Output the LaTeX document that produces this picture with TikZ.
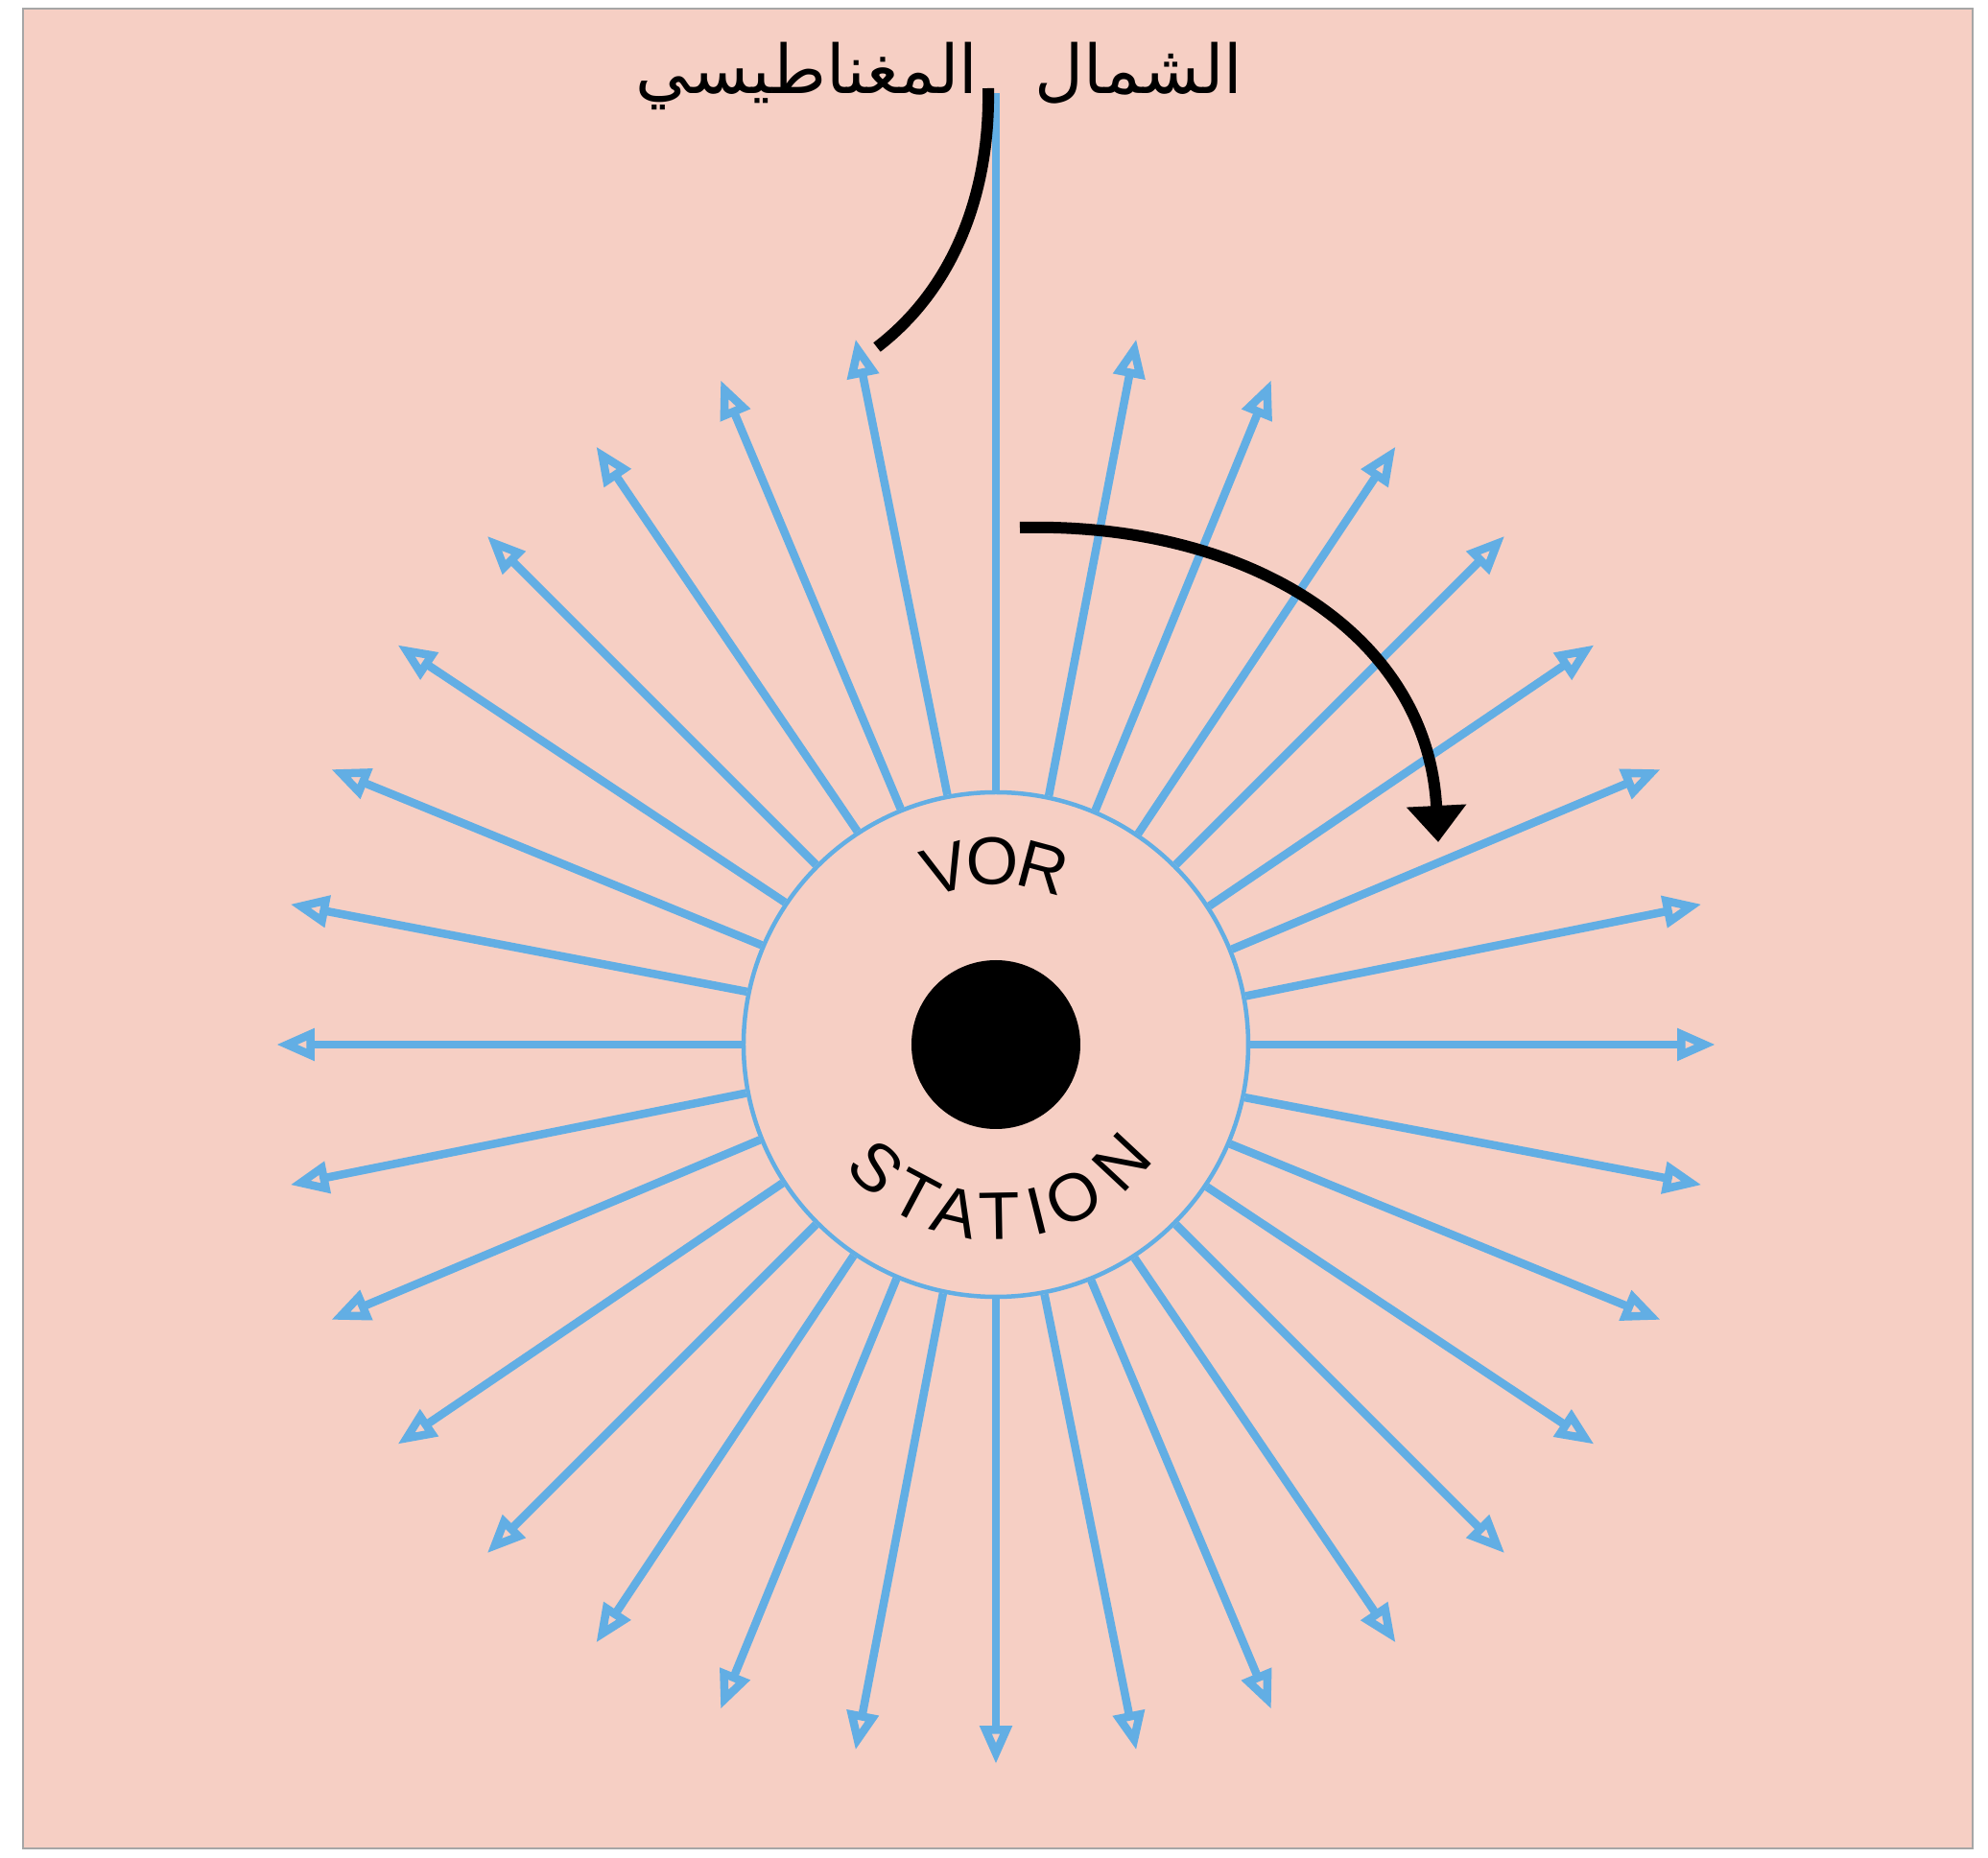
\documentclass[tikz,border=0pt]{standalone}
\usepackage{fontspec}
\usetikzlibrary{arrows.meta}
\setsansfont{Liberation Sans}
\newfontfamily\arabicfont[Script=Arabic]{DejaVu Sans}
\TeXXeTstate=1
\definecolor{paper}{RGB}{246,207,196}
\definecolor{beam}{RGB}{98,174,228}

\begin{document}
\begin{tikzpicture}[
    ray/.style={beam, line width=0.085cm,
      -{Triangle[open, length=0.4cm, width=0.32cm]}},
    leader/.style={black, line width=0.12cm},
    letter/.style={inner sep=0pt, font=\sffamily\fontsize{20}{24}\selectfont},
    label/.style={anchor=base, font=\arabicfont\fontsize{20}{24}\selectfont}
  ]
  \useasboundingbox (-10.38,-8.48) rectangle (10.34,10.89);
  \fill[white] (-10.38,-8.48) rectangle (10.34,10.89);
  \draw[gray!70, line width=0.02cm, fill=paper] (-10.14,-8.38) rectangle (10.18,10.80);

  % the station
  \node[circle, draw=beam, line width=0.045cm, minimum size=5.26cm] (vor) at (0,0) {};
  \node[circle, fill=black, minimum size=1.76cm] (dot) at (0,0) {};

  % 32 radials, north left plain
  \foreach \k in {0,...,31}{
    \ifnum\k=8\else
      \draw[ray] (vor.\k*11.25) -- (\k*11.25:7.5);
    \fi
  }
  \coordinate (north) at (0,9.92);
  \draw[beam, line width=0.085cm] (vor.90) -- (north);

  % lettering round the dot
  \foreach \l/\a [count=\i] in {V/106,O/91,R/75}
    \node[letter, rotate=\a-90] (vor\i) at (\a:1.91) {\l};
  \foreach \l/\a [count=\i] in {S/226,T/242,A/256.5,T/271,I/284,O/297,N/317}
    \node[letter, rotate=\a+90] (stn\i) at (\a:1.79) {\l};

  % magnetic north label
  \node[label] (shamal) at (1.49,9.91) {\beginR الشمال\endR};
  \node[label] (magn) at (-1.97,9.91) {\beginR المغناطيسي\endR};
  \coordinate (leadtop) at (-0.08,9.97);
  \coordinate (leadend) at (-1.24,7.27);
  \draw[leader] (leadtop) .. controls (-0.06,8.89) and (-0.43,7.89) .. (leadend);

  % bearing arrow
  \coordinate (turnA) at (0.25,5.39);
  \coordinate (turnB) at (4.61,2.11);
  \draw[leader, -{Triangle[length=0.38cm, width=0.6cm]}]
    (turnA) .. controls (2.6,5.45) and (4.5,4.3) .. (turnB);
\end{tikzpicture}
\end{document}
